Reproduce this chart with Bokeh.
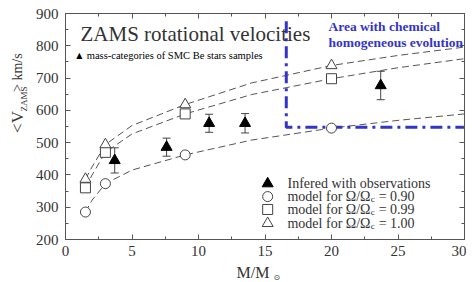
import math
from bokeh.plotting import figure
from bokeh.layouts import row, column
from bokeh.models import (ColumnDataSource, Range1d, LinearAxis, Label, Whisker, TeeHead,
                          FixedTicker)
from bokeh.embed import file_html
from bokeh.resources import INLINE

# ---------------- data ----------------
mass_models = [1.5, 3, 9, 20]
v_090 = [285, 373, 462, 545]
v_099 = [360, 470, 589, 698]
v_100 = [387, 494, 618, 739]

mass_obs = [3.7, 7.6, 10.8, 13.5, 23.7]
v_obs = [445, 486, 560, 560, 677]
v_obs_err = [39, 28, 28, 30, 44]

curve_mass = [1.5, 2, 3, 5, 9, 14, 20, 25, 30]
curve_090 = [285, 322, 373, 415, 462, 508, 545, 569, 589]
curve_099 = [360, 400, 470, 527, 589, 649, 698, 732, 760]
curve_100 = [387, 425, 494, 553, 618, 685, 739, 770, 796]

area_x = [16.6, 16.6, 30]
area_y = [876, 548, 548]

x_ticks = [0, 5, 10, 15, 20, 25, 30]
y_ticks = [200, 300, 400, 500, 600, 700, 800, 900]

SERIF = "Liberation Serif"
GREY = "#333333"


def blank_fig(w, h, xr, yr):
    f = figure(width=w, height=h, output_backend="svg", toolbar_location=None,
               x_range=xr, y_range=yr, min_border=0,
               x_axis_location=None, y_axis_location=None)
    f.xgrid.visible = False
    f.ygrid.visible = False
    f.outline_line_color = None
    f.background_fill_color = "white"
    f.border_fill_color = "white"
    return f


p = figure(width=436, height=265, output_backend="svg", toolbar_location=None,
           x_range=Range1d(0, 30), y_range=Range1d(200, 900),
           min_border_left=35, min_border_right=2, min_border_top=13, min_border_bottom=26,
           x_axis_location=None, y_axis_location=None)
p.xgrid.visible = False
p.ygrid.visible = False
p.outline_line_color = "#555555"
p.outline_line_width = 1
p.background_fill_color = "white"
p.border_fill_color = "white"


def style_axis(ax, labels=True):
    ax.major_tick_in = 5
    ax.major_tick_out = 0
    ax.minor_tick_in = 3
    ax.minor_tick_out = 0
    ax.axis_line_color = "#555555"
    ax.major_tick_line_color = "#555555"
    ax.minor_tick_line_color = "#555555"
    ax.major_label_text_font = SERIF
    ax.major_label_text_font_size = "15px"
    ax.major_label_text_color = GREY
    if not labels:
        ax.major_label_text_font_size = "0px"
        ax.major_label_text_alpha = 0


xt = FixedTicker(ticks=x_ticks, minor_ticks=[2.5 + 5 * i for i in range(6)])
yt = FixedTicker(ticks=y_ticks, minor_ticks=[250 + 100 * i for i in range(7)])

bx = LinearAxis(ticker=xt); style_axis(bx); bx.major_label_standoff = 6
ly = LinearAxis(ticker=yt); style_axis(ly); ly.major_label_standoff = 7
tx = LinearAxis(ticker=xt); style_axis(tx, False)
ry = LinearAxis(ticker=yt); style_axis(ry, False)
p.add_layout(bx, "below")
p.add_layout(ly, "left")
p.add_layout(tx, "above")
p.add_layout(ry, "right")

# dashed model curves
for cy in (curve_090, curve_099, curve_100):
    p.line(curve_mass, cy, line_color="#555555", line_width=1, line_dash="7 4")

# blue dash-dot region
p.line(area_x, area_y, line_color="#3434c8", line_width=3, line_dash="12 5 3 5")

# model markers
p.scatter(mass_models, v_090, marker="circle", size=10, fill_color="white",
          line_color="#444444", line_width=1)
p.scatter(mass_models, v_099, marker="square", size=10, fill_color="white",
          line_color="#444444", line_width=1)
p.scatter(mass_models, v_100, marker="triangle", size=11, fill_color="white",
          line_color="#444444", line_width=1)

# observations
src = ColumnDataSource(dict(x=mass_obs, y=v_obs,
                            lo=[v - e for v, e in zip(v_obs, v_obs_err)],
                            hi=[v + e for v, e in zip(v_obs, v_obs_err)]))
p.add_layout(Whisker(source=src, base="x", lower="lo", upper="hi", dimension="height",
                     line_color="#444444", line_width=1,
                     upper_head=TeeHead(size=8, line_color="#444444"),
                     lower_head=TeeHead(size=8, line_color="#444444")))
p.scatter("x", "y", source=src, marker="triangle", size=11, fill_color="black",
          line_color="black")

# legend (manual)
leg_y = [373, 333, 293, 250]
p.scatter([15.2], [leg_y[0]], marker="triangle", size=11, fill_color="black", line_color="black")
p.scatter([15.2], [leg_y[1]], marker="circle", size=10, fill_color="white", line_color="#444444")
p.scatter([15.2], [leg_y[2]], marker="square", size=10, fill_color="white", line_color="#444444")
p.scatter([15.2], [leg_y[3]], marker="triangle", size=11, fill_color="white", line_color="#444444")


def lab(f, x, y, text, size, color=GREY, style="normal", align="left", baseline="middle",
        angle=0.0, font=SERIF):
    f.add_layout(Label(x=x, y=y, text=text, text_font=font, text_font_size=size,
                       text_color=color, text_font_style=style, text_align=align,
                       text_baseline=baseline, angle=angle))


lab(p, 16.69, leg_y[0], "Infered with observations", "14px")
for yy, val in zip(leg_y[1:], ["0.90", "0.99", "1.00"]):
    lab(p, 16.69, yy, "model for \u03a9/\u03a9", "14px")
    lab(p, 22.95, yy - 9, "c", "9px")
    lab(p, 23.55, yy, "= " + val, "14px")

# title + subtitle
lab(p, 1.13, 835, "ZAMS rotational velocities", "21px")
lab(p, 0.8, 770, "\u25b2", "8px", color="black", font="DejaVu Sans")
lab(p, 1.6, 770, "mass-categories of SMC Be stars samples", "10.5px", color="black")

# blue annotation
lab(p, 19.77, 860, "Area with chemical", "13.5px", color="#3434c8", style="bold")
lab(p, 19.77, 810, "homogeneous evolution", "13.5px", color="#3434c8", style="bold")

# y axis label panel (pixel coordinates, y downward)
yfig = blank_fig(30, 265, Range1d(0, 30), Range1d(265, 0))
ang = math.pi / 2
lab(yfig, 17, 140, "<V", "17px", angle=ang)
lab(yfig, 23, 115, "ZAMS", "9px", angle=ang)
lab(yfig, 17, 92, "> km/s", "14px", angle=ang)

# x axis label panel (pixel coordinates)
xfig = blank_fig(466, 17, Range1d(0, 466), Range1d(17, 0))
lab(xfig, 236, 7, "M/M", "16px")
lab(xfig, 273, 12, "\u2299", "8px", font="DejaVu Sans")

layout = column(row(yfig, p, spacing=0), xfig, spacing=0)
open("out.html", "w").write(file_html(layout, INLINE))
